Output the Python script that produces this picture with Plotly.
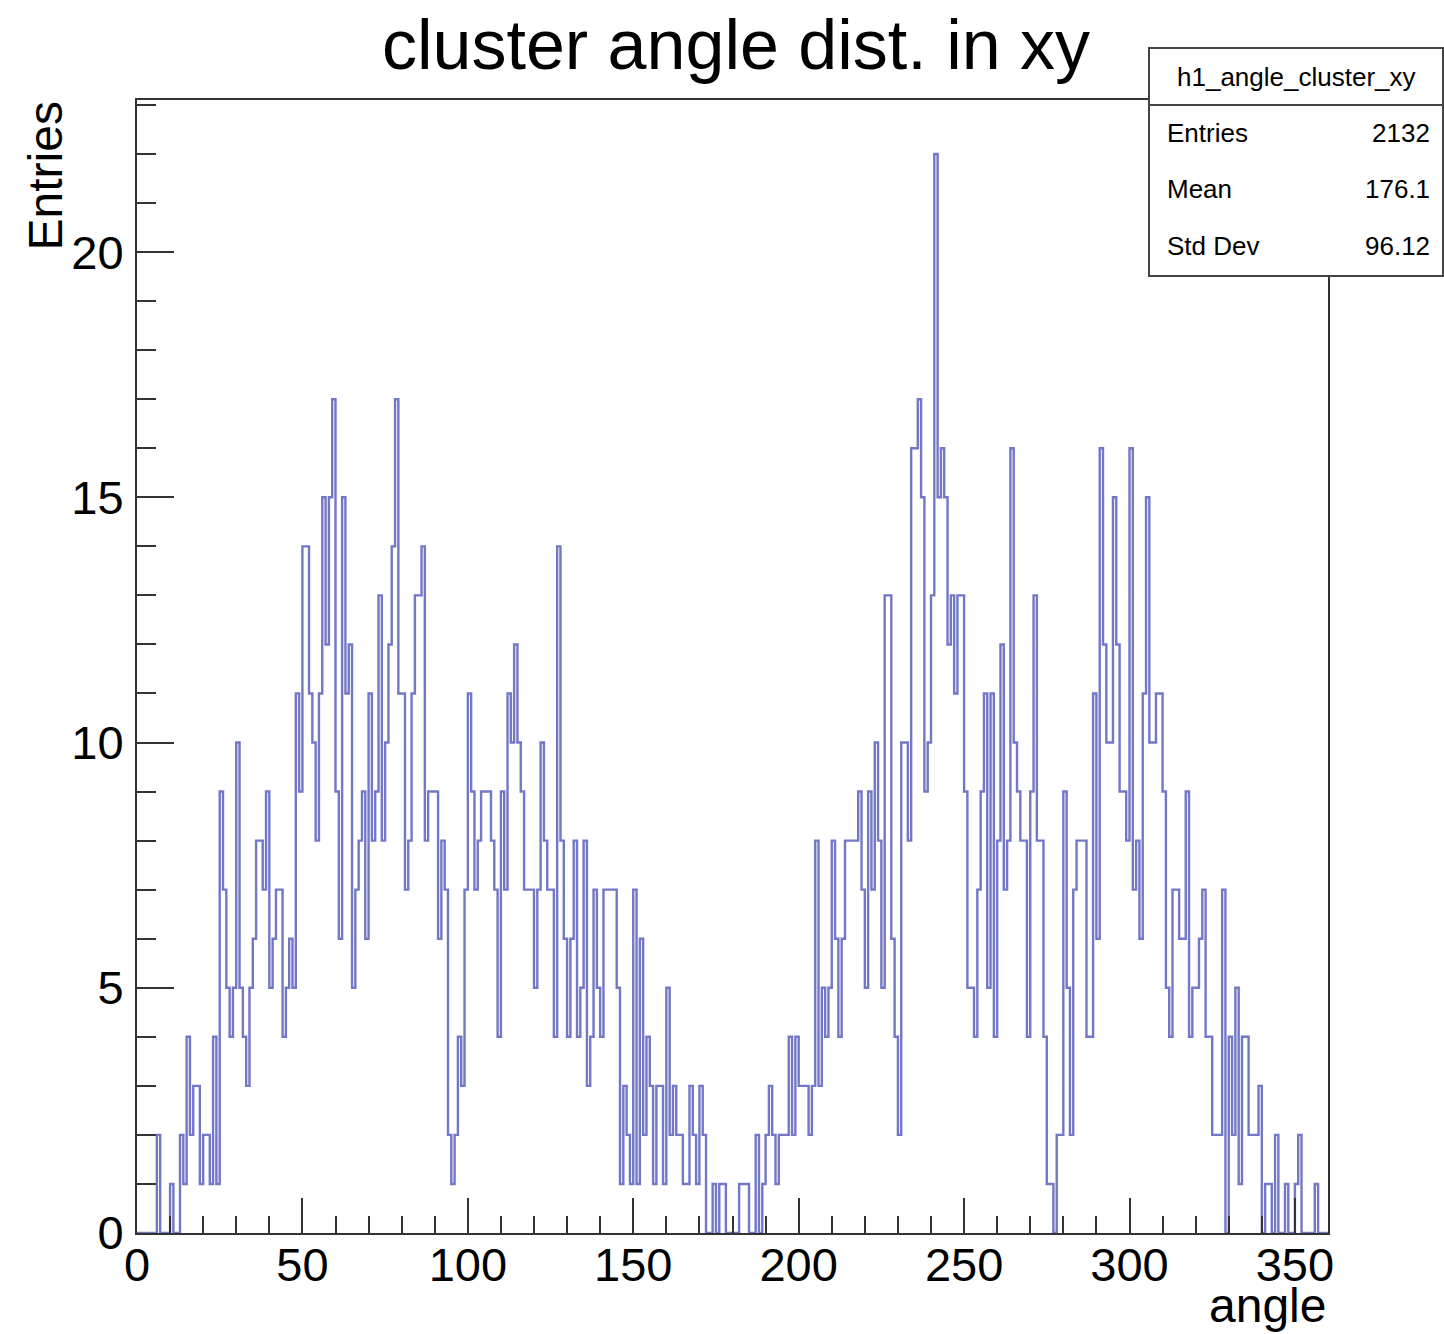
import numpy as np
import plotly.graph_objects as go

# Bin contents of h1_angle_cluster_xy: 360 bins of 1 degree over [0, 360)
counts_000_059 = [0, 0, 0, 0, 0, 0, 2, 0, 0, 0, 1, 0, 0, 2, 1, 4, 2, 3, 3, 1,
                  2, 2, 1, 4, 1, 9, 7, 5, 4, 5, 10, 5, 4, 3, 5, 6, 8, 8, 7, 9,
                  5, 6, 7, 7, 4, 5, 6, 5, 11, 9, 14, 14, 11, 10, 8, 11, 15, 12, 15, 17]
counts_060_119 = [9, 6, 15, 11, 12, 5, 7, 8, 9, 6, 11, 8, 9, 13, 8, 10, 12, 14, 17, 11,
                  11, 7, 8, 11, 13, 13, 14, 8, 9, 9, 9, 6, 8, 7, 2, 1, 2, 4, 3, 7,
                  11, 9, 7, 8, 9, 9, 9, 8, 7, 4, 9, 7, 11, 10, 12, 10, 9, 7, 7, 7]
counts_120_179 = [5, 7, 10, 8, 7, 7, 4, 14, 8, 6, 4, 6, 8, 4, 5, 8, 3, 4, 7, 5,
                  4, 7, 7, 7, 7, 5, 1, 3, 2, 1, 7, 1, 6, 2, 4, 3, 1, 3, 3, 1,
                  5, 2, 3, 2, 2, 1, 1, 3, 2, 1, 3, 2, 0, 0, 1, 0, 1, 1, 0, 0]
counts_180_239 = [0, 0, 1, 1, 1, 0, 0, 2, 0, 1, 2, 3, 2, 1, 2, 2, 2, 4, 2, 4,
                  3, 3, 3, 2, 3, 8, 3, 5, 4, 5, 8, 6, 4, 6, 8, 8, 8, 8, 9, 7,
                  5, 9, 7, 10, 8, 5, 13, 13, 6, 4, 2, 10, 10, 8, 16, 16, 17, 15, 9, 10]
counts_240_299 = [13, 22, 15, 16, 15, 12, 13, 11, 13, 13, 9, 5, 5, 4, 7, 9, 11, 5, 11, 4,
                  8, 12, 7, 8, 16, 10, 9, 8, 8, 4, 9, 13, 8, 8, 4, 1, 1, 0, 2, 2,
                  9, 5, 2, 7, 8, 8, 8, 4, 4, 11, 6, 16, 12, 10, 10, 15, 12, 9, 9, 8]
counts_300_359 = [16, 7, 8, 6, 11, 15, 10, 10, 11, 11, 9, 5, 4, 7, 7, 6, 6, 9, 4, 5,
                  5, 6, 7, 4, 4, 2, 2, 2, 7, 0, 4, 2, 5, 1, 4, 4, 2, 2, 2, 3,
                  0, 1, 1, 0, 2, 0, 0, 1, 0, 0, 1, 2, 0, 0, 0, 0, 1, 0, 0, 0]

x_min, x_max = 0.0, 360.0
y_max = 23.1

stats_name = "h1_angle_cluster_xy"
stats_labels = ["Entries", "Mean", "Std Dev"]
stats_values = ["2132", "176.1", "96.12"]

counts = (counts_000_059 + counts_060_119 + counts_120_179 +
          counts_180_239 + counts_240_299 + counts_300_359)
n_bins = len(counts)
edges = np.linspace(x_min, x_max, n_bins + 1)
step_y = counts + [counts[-1]]

W, H = 1444, 1334
L, R, T, B = 137, 1328, 100, 1233   # frame in pixels


def px(x):
    return (x - L) / (R - L)


def py(y):
    return (B - y) / (B - T)


FONT = "Liberation Sans, Arial, Helvetica, sans-serif"
AX = "#333333"

fig = go.Figure()
fig.add_trace(go.Scatter(
    x=edges, y=step_y, mode="lines",
    line=dict(shape="hv", color="#7277c6", width=2.4),
    hoverinfo="skip", showlegend=False,
))

axis_common = dict(
    showgrid=False, zeroline=False, showline=True, mirror=True,
    linecolor=AX, linewidth=2, ticks="inside", tickwidth=2, tickcolor=AX,
    tickfont=dict(family=FONT, size=47, color="black"),
)
fig.update_xaxes(range=[x_min, x_max], tick0=0, dtick=50, ticklen=35,
                 ticklabelstandoff=-10,
                 minor=dict(ticks="inside", dtick=10, ticklen=17, tickwidth=2,
                            tickcolor=AX),
                 **axis_common)
fig.update_yaxes(range=[0, y_max], tick0=0, dtick=5, ticklen=37,
                 ticklabelstandoff=2,
                 minor=dict(ticks="inside", dtick=1, ticklen=19, tickwidth=2,
                            tickcolor=AX),
                 **axis_common)

# statistics box
bx0, bx1, by0, by1, bsep = 1149, 1443, 48, 276, 105
shapes = [
    dict(type="rect", xref="paper", yref="paper",
         x0=px(bx0), x1=px(bx1), y0=py(by1), y1=py(by0),
         fillcolor="white", line=dict(color="#444444", width=2), layer="above"),
    dict(type="line", xref="paper", yref="paper",
         x0=px(bx0), x1=px(bx1), y0=py(bsep), y1=py(bsep),
         line=dict(color="#444444", width=2), layer="above"),
]

annotations = [
    dict(text="cluster angle dist. in xy", x=px(736), y=py(45),
         xanchor="center", yanchor="middle",
         font=dict(family=FONT, size=70, color="black")),
    dict(text="angle", x=px(1328), y=py(1305), xanchor="right", yanchor="middle",
         font=dict(family=FONT, size=48, color="black")),
    dict(text="Entries", x=px(45), y=py(100), xanchor="center", yanchor="top",
         textangle=-90, font=dict(family=FONT, size=48, color="black")),
    dict(text=stats_name, x=px((bx0 + bx1) / 2), y=py(77), xanchor="center",
         yanchor="middle", font=dict(family=FONT, size=26, color="black")),
]
row_y = [133, 189, 246]
for lab, val, yy in zip(stats_labels, stats_values, row_y):
    annotations.append(dict(text=lab, x=px(1165), y=py(yy), xanchor="left",
                            yanchor="middle",
                            font=dict(family=FONT, size=26, color="black")))
    annotations.append(dict(text=val, x=px(1432), y=py(yy), xanchor="right",
                            yanchor="middle",
                            font=dict(family=FONT, size=26, color="black")))
for a in annotations:
    a.update(xref="paper", yref="paper", showarrow=False)

fig.update_layout(
    width=W, height=H,
    margin=dict(l=L, r=W - R, t=T, b=H - B, pad=0),
    paper_bgcolor="white", plot_bgcolor="white",
    font=dict(family=FONT, color="black"),
    shapes=shapes, annotations=annotations, showlegend=False,
)

fig.write_html("out.html")
